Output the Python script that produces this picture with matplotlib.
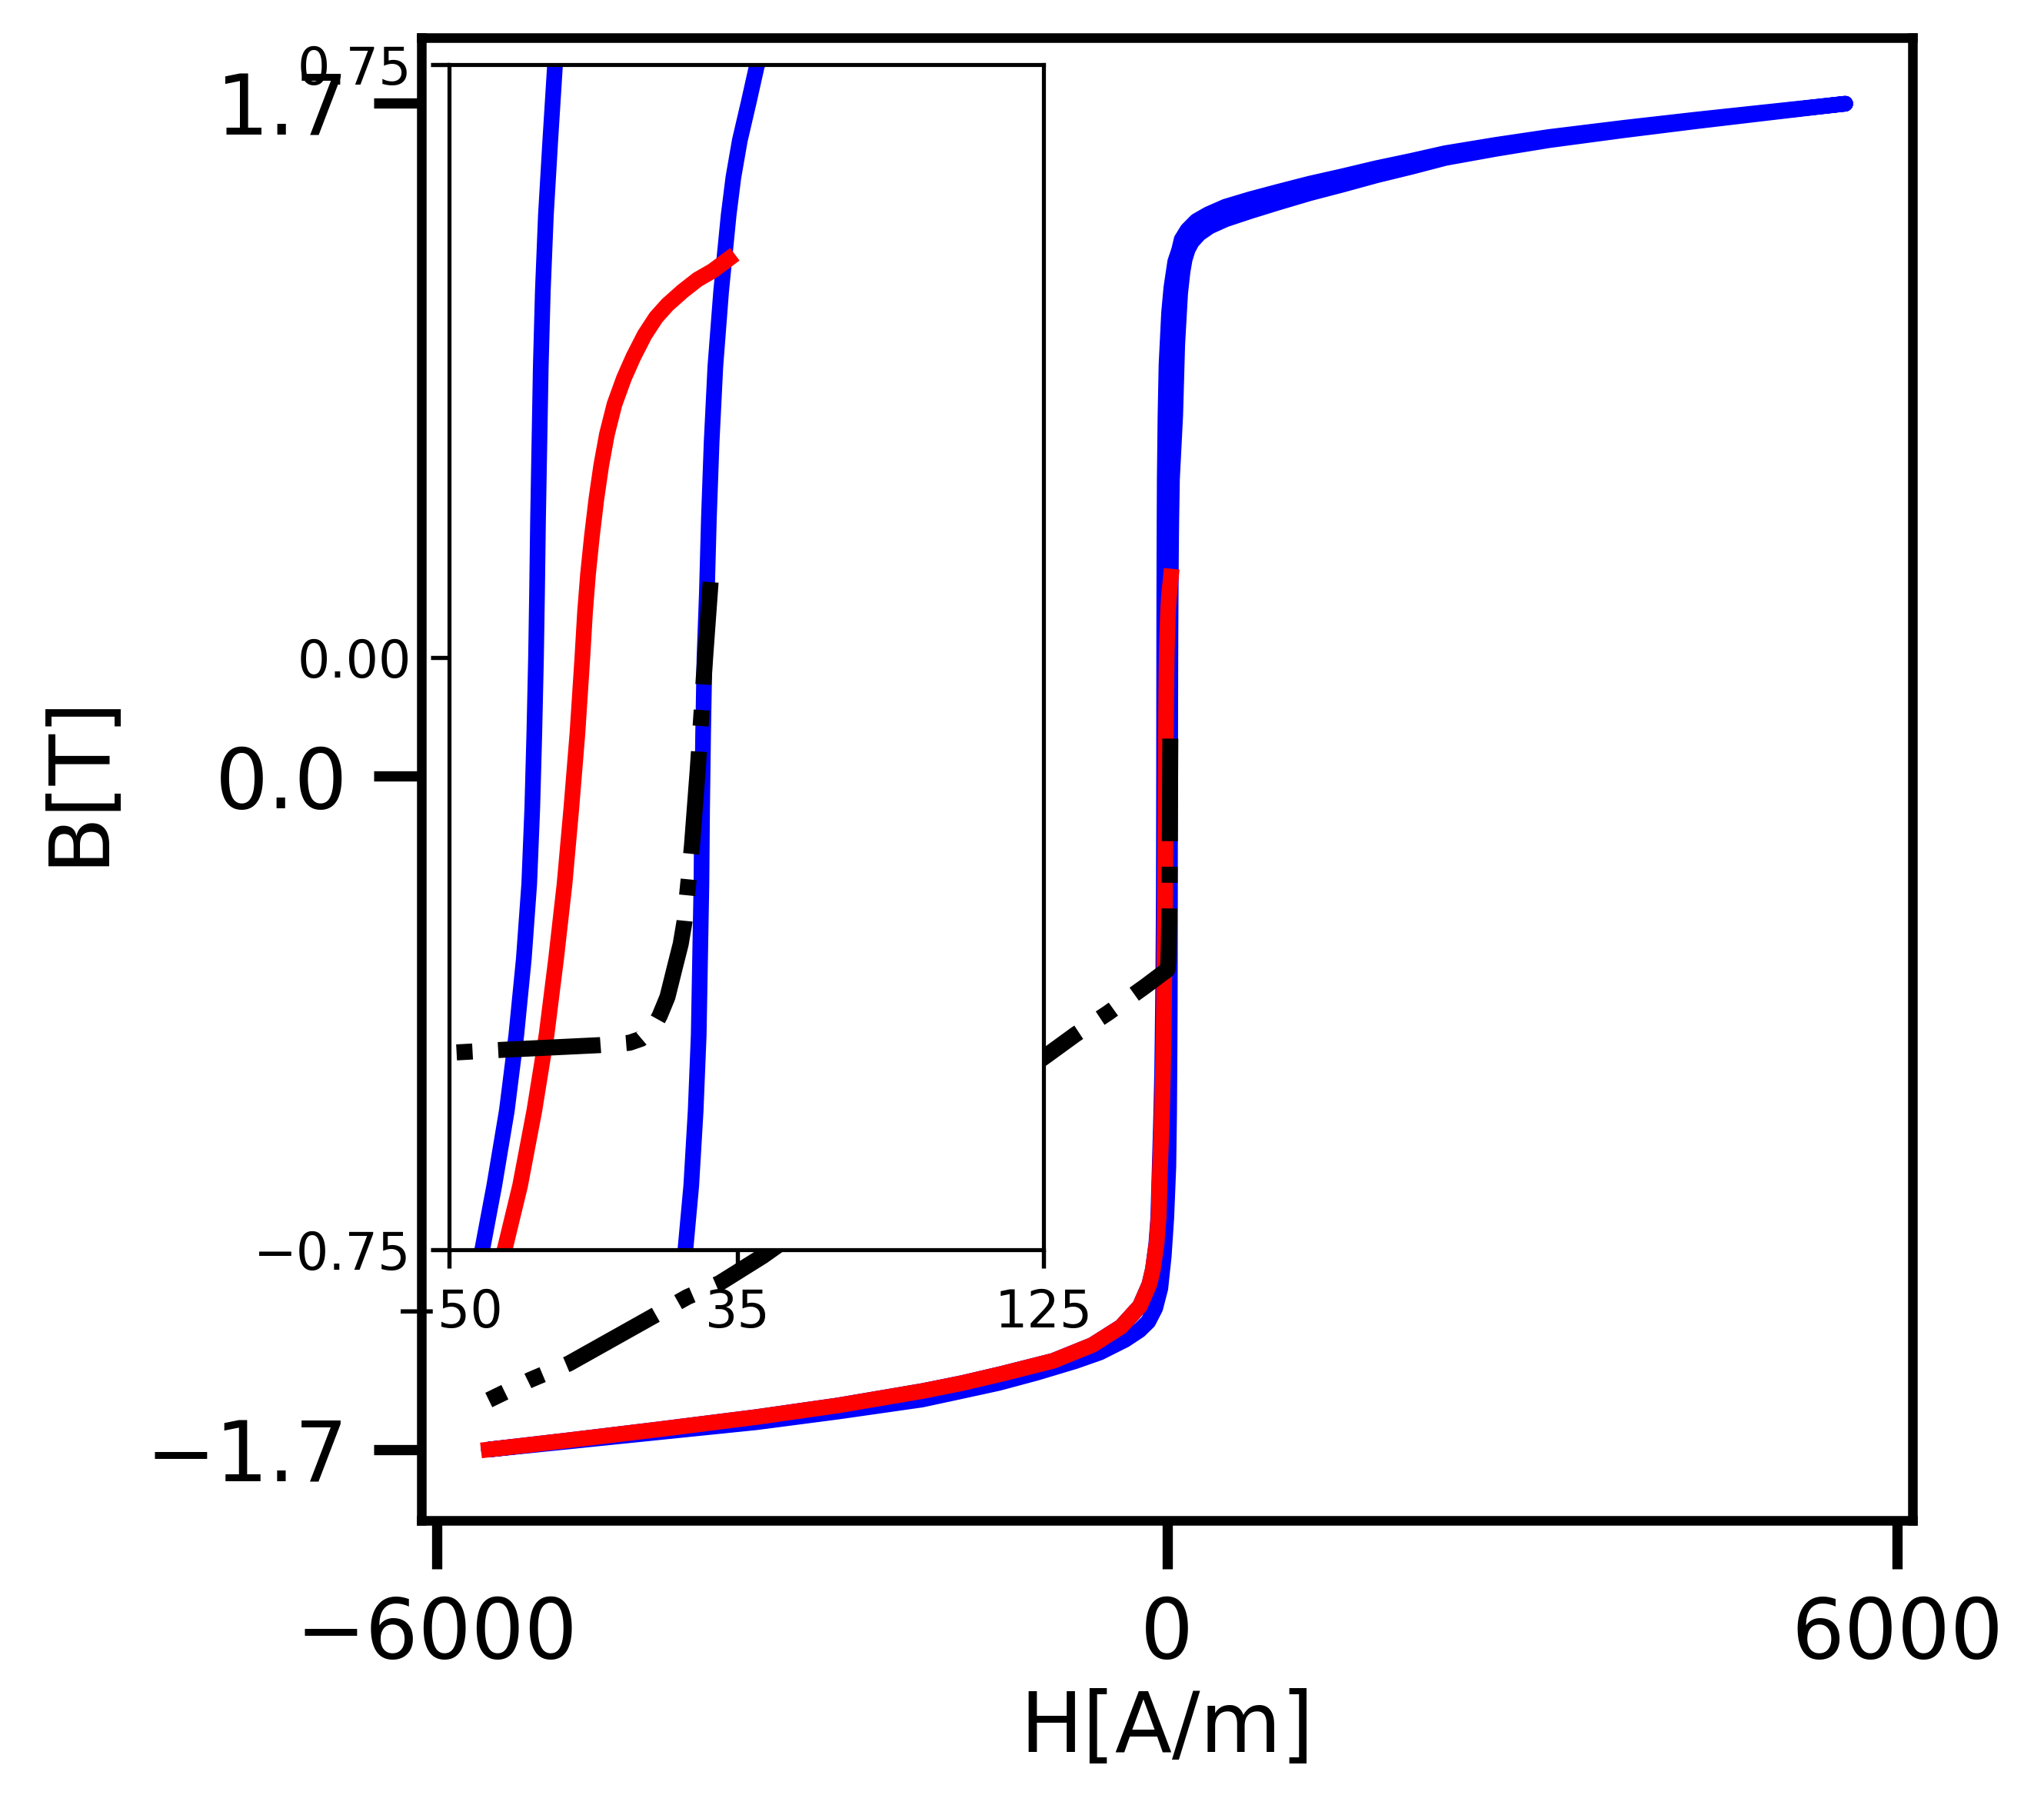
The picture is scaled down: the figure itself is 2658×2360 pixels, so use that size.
import numpy as np
import matplotlib
matplotlib.use("Agg")
from matplotlib import pyplot as plt

# major loop, descending branch (H from +Hmax down to -Hmax)
h_desc = [5572, 4960, 4352, 3750, 3140, 2700, 2285, 2011, 1718, 1445, 1171, 918, 686,
          480, 339, 242, 168, 120, 99, 67.4, 35.8, 16.8, -4.2, -12.6,
          -18.8, -20.2, -21.5, -22.4, -23.0, -23.4, -23.8, -24.1, -24.4, -24.9, -25.5,
          -26.4, -28.0, -30.2, -33.0, -36.7, -40.2,
          -48, -60, -72, -88, -116, -145, -223, -377, -613, -935, -1360, -1680, -2003,
          -2700, -3373, -4200, -4900, -5572]
b_desc = [1.698, 1.678, 1.658, 1.637, 1.614, 1.594, 1.573, 1.554, 1.535, 1.515, 1.496,
          1.476, 1.457, 1.438, 1.419, 1.402, 1.379, 1.355, 1.328, 1.299, 1.234, 1.170,
          1.040, 0.911,
          0.750, 0.654, 0.559, 0.463, 0.368, 0.272, 0.176, 0.081, 0.000, -0.096, -0.191,
          -0.287, -0.382, -0.478, -0.574, -0.669, -0.749,
          -0.856, -0.986, -1.115, -1.180, -1.245, -1.283, -1.338, -1.390, -1.436, -1.476,
          -1.509, -1.532, -1.552, -1.5885, -1.618, -1.650, -1.676, -1.700]

# major loop, ascending branch (H from -Hmax up to +Hmax)
h_asc = [-5572, -4900, -4200, -3373, -2700, -2017, -1699, -1385, -1070, -756, -552,
         -345, -227, -154, -97, -55, -27, -6, 11, 17,
         19.6, 21.3, 22.6, 23.5, 23.9, 24.3, 24.5, 24.8, 25.2, 25.9, 26.5, 27.3, 28.4,
         30.1, 31.2, 32.3, 33.7, 35.6, 38.2, 40.7,
         67.4, 84, 108, 128, 145, 170, 205, 265, 350, 480, 686, 918, 1171, 1445, 1718,
         2011, 2285, 2700, 3140, 3750, 4352, 4960, 5572]
b_asc = [-1.700, -1.679, -1.657, -1.631, -1.604, -1.574, -1.553, -1.532, -1.506, -1.477,
         -1.455, -1.423, -1.399, -1.377, -1.343, -1.293, -1.212, -1.115, -0.986, -0.856,
         -0.749, -0.669, -0.574, -0.478, -0.382, -0.287, -0.191, -0.096, 0.000, 0.081,
         0.176, 0.272, 0.368, 0.463, 0.511, 0.559, 0.607, 0.654, 0.702, 0.750,
         0.911, 1.090, 1.220, 1.275, 1.305, 1.330, 1.350, 1.370, 1.388, 1.406, 1.427,
         1.449, 1.472, 1.494, 1.517, 1.539, 1.561, 1.584, 1.606, 1.631, 1.654, 1.676,
         1.698]

# red curve
h_red = [-5572, -4900, -4200, -3373, -2700, -2003, -1680, -1360, -935, -613, -377, -223,
         -145, -116, -86, -69, -57, -42, -33.6, -29.1, -24.9, -21.3, -18.5, -16.0, -14.0,
         -12.2, -10.75, -9.97, -9.09, -7.97, -6.64, -5.19, -3.53, -1.30, 1.48, 4.26, 7.59,
         10.93, 14.27, 18.71, 23.16, 27.61, 32.28]
b_red = [-1.700, -1.676, -1.650, -1.618, -1.5885, -1.552, -1.532, -1.509, -1.476, -1.436,
         -1.390, -1.338, -1.283, -1.245, -1.180, -1.115, -0.986, -0.856, -0.749, -0.669,
         -0.574, -0.478, -0.382, -0.287, -0.191, -0.096, 0.000, 0.057, 0.105, 0.152,
         0.200, 0.243, 0.282, 0.320, 0.353, 0.380, 0.408, 0.430, 0.446, 0.463, 0.478,
         0.489, 0.504]

# black dash-dot curve (from its upper end down to the lower left)
h_black = [27.0, 25.4, 24.3, 23.2, 21.5, 20.4, 19.3, 18.2, 16.5, 14.3, 12.0, 9.8, 6.5,
           3.1, -5.8, -34.7, -47.1, -177, -486, -752, -998, -3323, -3677, -3942, -4207,
           -4915, -5231, -5572]
b_black = [0.095, 0.000, -0.072, -0.143, -0.239, -0.287, -0.335, -0.363, -0.392, -0.430,
           -0.454, -0.471, -0.483, -0.488, -0.491, -0.497, -0.500, -0.530, -0.598, -0.652,
           -0.707, -1.212, -1.280, -1.315, -1.361, -1.483, -1.524, -1.575]

main_xticks = [-6000, 0, 6000]
main_yticks = [-1.7, 0.0, 1.7]
main_yticklabels = ["\u22121.7", "0.0", "1.7"]
inset_xticks = [-50, 35, 125]
inset_yticks = [-0.75, 0.0, 0.75]
inset_yticklabels = ["\u22120.75", "0.00", "0.75"]


def draw_curves(a):
    a.plot(h_desc + h_asc, b_desc + b_asc, color="blue", lw=4.9,
           solid_capstyle="round")
    a.plot(h_red, b_red, color="red", lw=4.9)
    a.plot(h_black, b_black, color="black", lw=5, linestyle="-.")


fig = plt.figure(figsize=(8.86, 7.8667), dpi=300)

ax = fig.add_axes([0.2062, 0.1623, 0.7295, 0.8170])
draw_curves(ax)
ax.set_xlim(-6125, 6125)
ax.set_ylim(-1.879, 1.865)
ax.set_xticks(main_xticks)
ax.set_yticks(main_yticks)
ax.set_yticklabels(main_yticklabels)
ax.tick_params(direction="out", length=15, width=3.2, labelsize=26, pad=8)
for s in ax.spines.values():
    s.set_linewidth(3)
ax.set_xlabel("H[A/m]", fontsize=26, labelpad=4)
ax.set_ylabel("B[T]", fontsize=26, labelpad=8)

ins = fig.add_axes([0.2197, 0.3114, 0.2908, 0.6530])
draw_curves(ins)
ins.set_xlim(-50, 125)
ins.set_ylim(-0.75, 0.75)
ins.set_xticks(inset_xticks)
ins.set_yticks(inset_yticks)
ins.set_yticklabels(inset_yticklabels)
ins.tick_params(direction="out", length=5.8, width=1.3, labelsize=16, pad=6)
for s in ins.spines.values():
    s.set_linewidth(1.25)

fig.savefig("out.png", dpi=300)
